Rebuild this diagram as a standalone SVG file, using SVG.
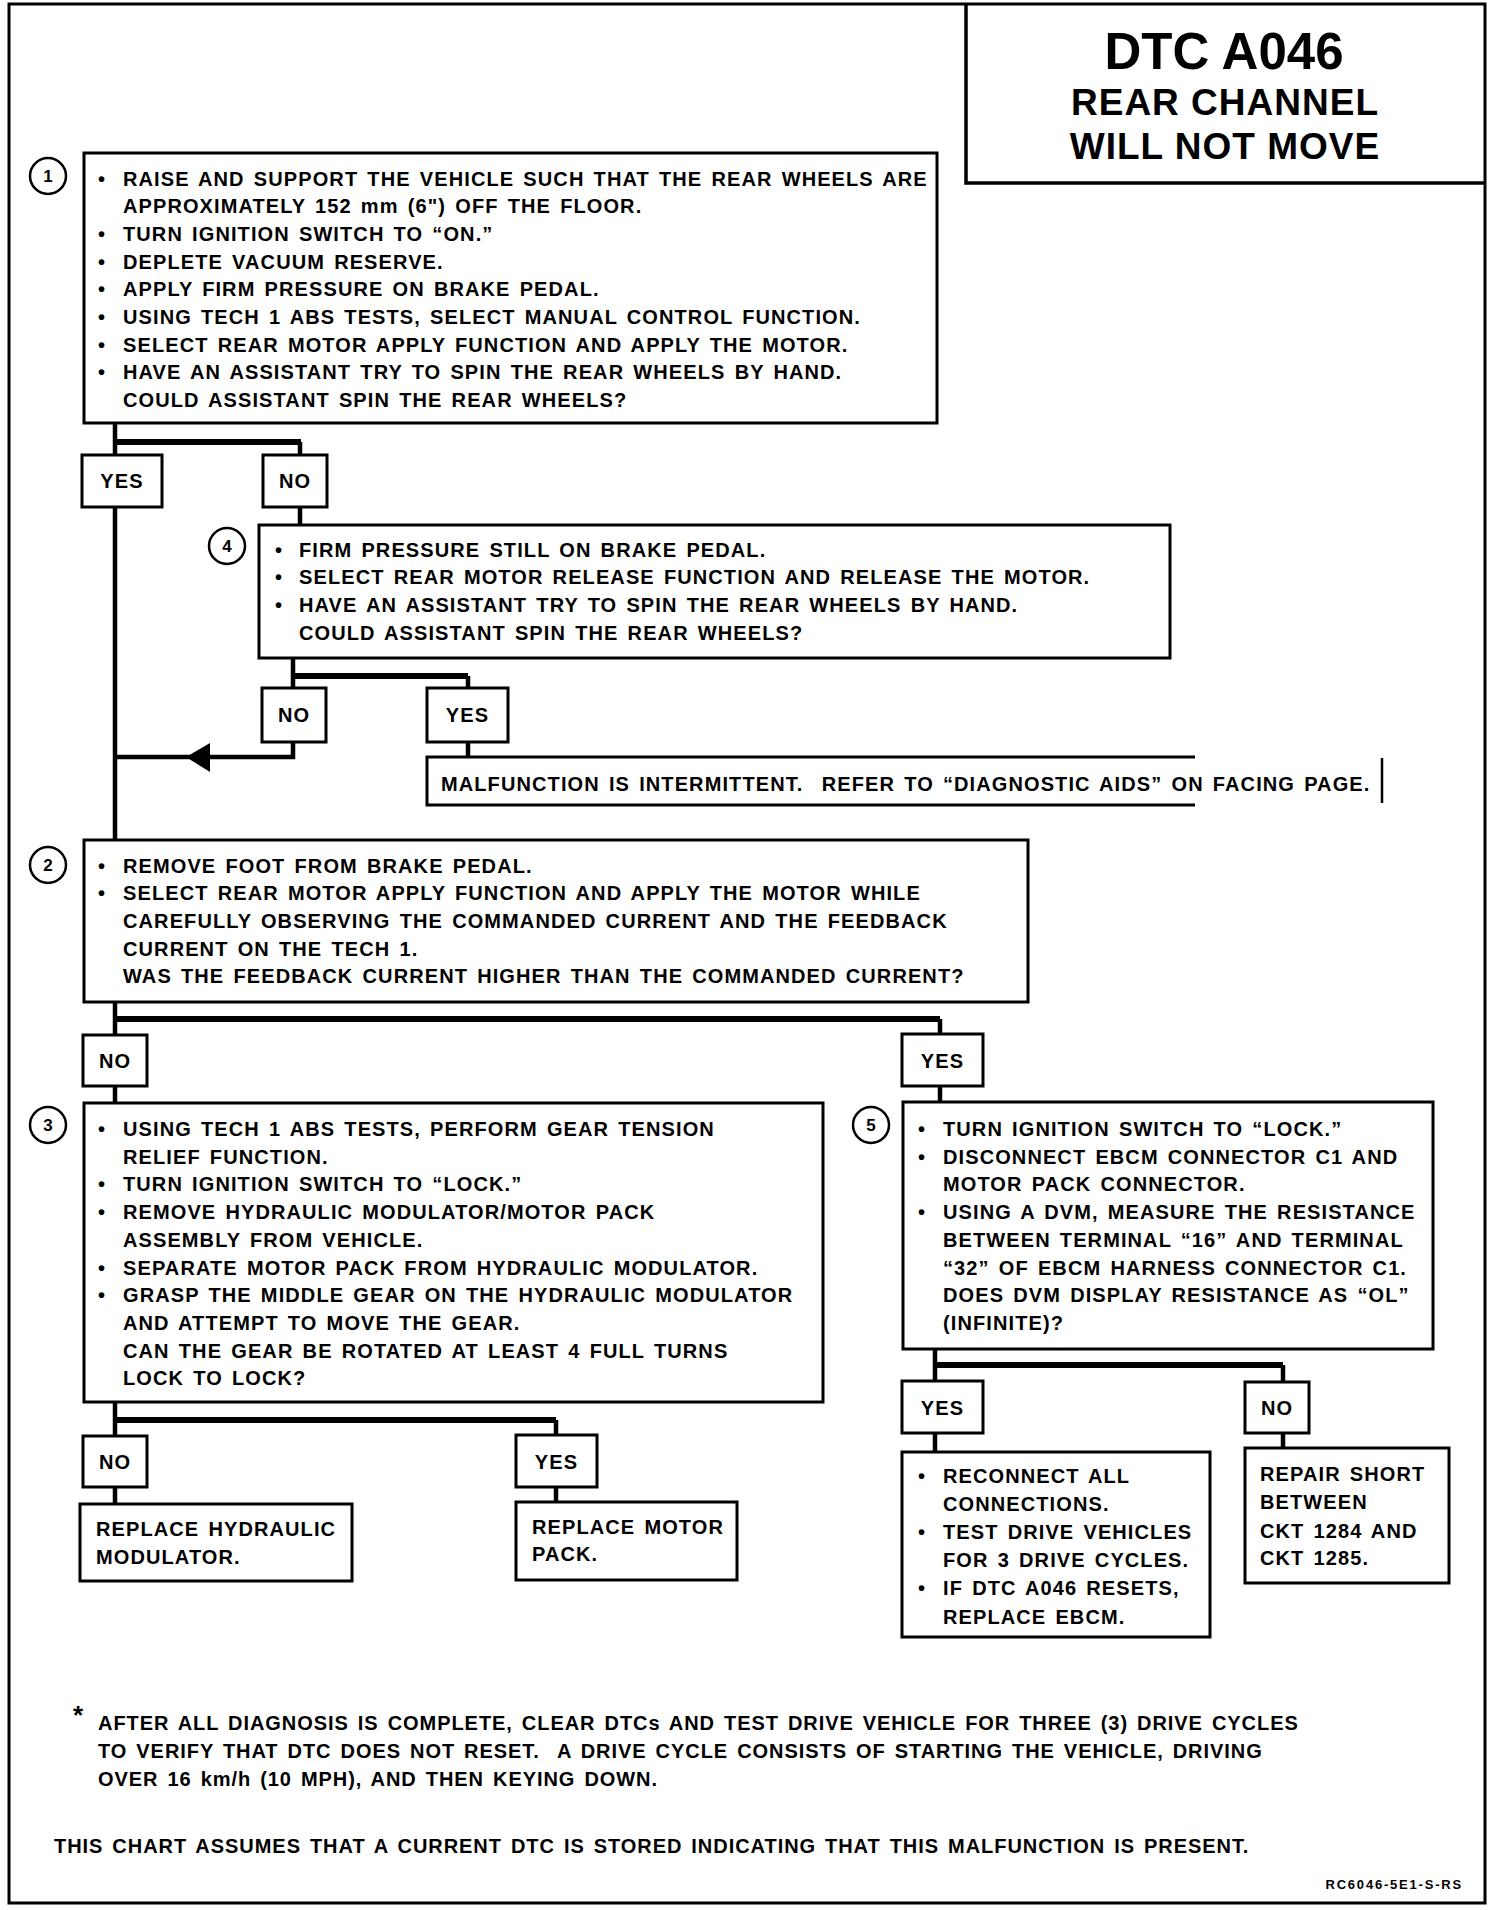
<svg xmlns="http://www.w3.org/2000/svg" width="1504" height="1910" viewBox="0 0 1504 1910">
<style>
.t{font-family:"Liberation Sans",Arial,sans-serif;font-weight:700;font-size:20px;letter-spacing:1.1px;word-spacing:2.5px;fill:#000}
.n{letter-spacing:0.95px}
.c{text-anchor:middle}
.b{fill:#fff;stroke:#000;stroke-width:3}
.cir{fill:#fff;stroke:#000;stroke-width:2.5}
.num{font-family:"Liberation Sans",Arial,sans-serif;font-weight:700;font-size:17px;text-anchor:middle}
.ln{fill:none;stroke:#000;stroke-width:4.5}
.bar{fill:none;stroke:#000;stroke-width:6}
.ttl{font-family:"Liberation Sans",Arial,sans-serif;font-weight:700;text-anchor:middle}
</style>
<rect width="1504" height="1910" fill="#fff"/>
<rect x="9" y="4" width="1476" height="1899" fill="none" stroke="#000" stroke-width="3"/>

<g id="title">
<path d="M966 4 V183 H1485" fill="none" stroke="#000" stroke-width="3.5"/>
<text class="ttl" x="1224" y="69" font-size="51">DTC A046</text>
<text class="ttl" x="1225" y="115" font-size="37" letter-spacing="1">REAR CHANNEL</text>
<text class="ttl" x="1225" y="159" font-size="37" letter-spacing="1">WILL NOT MOVE</text>
</g>

<g id="connectors">
<path class="ln" d="M115 423 V839"/>
<path class="bar" d="M115 442 H301"/>
<path class="ln" d="M300 442 V525"/>
<path class="ln" d="M293 658 V757 H115"/>
<path class="bar" d="M293 676 H468"/>
<path class="ln" d="M468 676 V757"/>
<polygon points="186,757 210,743 210,772" fill="#000"/>
<path class="ln" d="M115 1002 V1103"/>
<path class="bar" d="M115 1019 H940"/>
<path class="ln" d="M940 1019 V1102"/>
<path class="ln" d="M935 1349 V1452"/>
<path class="bar" d="M935 1365 H1283"/>
<path class="ln" d="M1283 1365 V1448"/>
<path class="ln" d="M115 1402 V1504"/>
<path class="bar" d="M115 1420 H556"/>
<path class="ln" d="M556 1420 V1502"/>
</g>

<g id="step1">
<rect class="b" x="84" y="153" width="853" height="270"/>
<circle class="cir" cx="48" cy="176" r="18"/>
<text class="num" x="48" y="182">1</text>
<text class="t c" x="102" y="185.5">•</text>
<text class="t" x="123" y="185.5">RAISE AND SUPPORT THE VEHICLE SUCH THAT THE REAR WHEELS ARE</text>
<text class="t" x="123" y="213.2">APPROXIMATELY 152 mm (6") OFF THE FLOOR.</text>
<text class="t c" x="102" y="240.9">•</text>
<text class="t" x="123" y="240.9">TURN IGNITION SWITCH TO “ON.”</text>
<text class="t c" x="102" y="268.6">•</text>
<text class="t" x="123" y="268.6">DEPLETE VACUUM RESERVE.</text>
<text class="t c" x="102" y="296.3">•</text>
<text class="t" x="123" y="296.3">APPLY FIRM PRESSURE ON BRAKE PEDAL.</text>
<text class="t c" x="102" y="324">•</text>
<text class="t" x="123" y="324">USING TECH 1 ABS TESTS, SELECT MANUAL CONTROL FUNCTION.</text>
<text class="t c" x="102" y="351.7">•</text>
<text class="t" x="123" y="351.7">SELECT REAR MOTOR APPLY FUNCTION AND APPLY THE MOTOR.</text>
<text class="t c" x="102" y="379.4">•</text>
<text class="t" x="123" y="379.4">HAVE AN ASSISTANT TRY TO SPIN THE REAR WHEELS BY HAND.</text>
<text class="t" x="123" y="407.1">COULD ASSISTANT SPIN THE REAR WHEELS?</text>
</g>

<g id="yes1"><rect class="b" x="82" y="455" width="80" height="52"/><text class="t c" x="122" y="488">YES</text></g>
<g id="no1"><rect class="b" x="263" y="455" width="64" height="52"/><text class="t c" x="295" y="488">NO</text></g>

<g id="step4">
<rect class="b" x="259" y="525" width="911" height="133"/>
<circle class="cir" cx="227" cy="546" r="18"/>
<text class="num" x="227" y="552">4</text>
<text class="t c" x="279" y="556.5">•</text>
<text class="t" x="299" y="556.5">FIRM PRESSURE STILL ON BRAKE PEDAL.</text>
<text class="t c" x="279" y="584.2">•</text>
<text class="t" x="299" y="584.2">SELECT REAR MOTOR RELEASE FUNCTION AND RELEASE THE MOTOR.</text>
<text class="t c" x="279" y="611.9">•</text>
<text class="t" x="299" y="611.9">HAVE AN ASSISTANT TRY TO SPIN THE REAR WHEELS BY HAND.</text>
<text class="t" x="299" y="639.6">COULD ASSISTANT SPIN THE REAR WHEELS?</text>
</g>

<g id="no2"><rect class="b" x="262" y="688" width="64" height="54"/><text class="t c" x="294" y="722">NO</text></g>
<g id="yes2"><rect class="b" x="427" y="688" width="81" height="54"/><text class="t c" x="467.5" y="722">YES</text></g>

<g id="intermittent">
<rect x="427" y="757" width="768" height="48" fill="#fff"/>
<path d="M1195 757 H427 V805 H1195" fill="none" stroke="#000" stroke-width="3"/>
<path d="M1382 758 V803" fill="none" stroke="#000" stroke-width="2.5"/>
<text class="t" x="441" y="791" style="white-space:pre">MALFUNCTION IS INTERMITTENT.  REFER TO “DIAGNOSTIC AIDS” ON FACING PAGE.</text>
</g>

<g id="step2">
<rect class="b" x="84" y="840" width="944" height="162"/>
<circle class="cir" cx="48" cy="865" r="18"/>
<text class="num" x="48" y="871">2</text>
<text class="t c" x="102" y="872.5">•</text>
<text class="t" x="123" y="872.5">REMOVE FOOT FROM BRAKE PEDAL.</text>
<text class="t c" x="102" y="900.2">•</text>
<text class="t" x="123" y="900.2">SELECT REAR MOTOR APPLY FUNCTION AND APPLY THE MOTOR WHILE</text>
<text class="t" x="123" y="927.9">CAREFULLY OBSERVING THE COMMANDED CURRENT AND THE FEEDBACK</text>
<text class="t" x="123" y="955.6">CURRENT ON THE TECH 1.</text>
<text class="t" x="123" y="983.3">WAS THE FEEDBACK CURRENT HIGHER THAN THE COMMANDED CURRENT?</text>
</g>

<g id="no3"><rect class="b" x="83" y="1035" width="64" height="51"/><text class="t c" x="115" y="1068">NO</text></g>
<g id="yes3"><rect class="b" x="902" y="1034" width="81" height="52"/><text class="t c" x="942.5" y="1068">YES</text></g>

<g id="step3">
<rect class="b" x="84" y="1103" width="739" height="299"/>
<circle class="cir" cx="48" cy="1125" r="18"/>
<text class="num" x="48" y="1131">3</text>
<text class="t c" x="102" y="1136">•</text>
<text class="t" x="123" y="1136">USING TECH 1 ABS TESTS, PERFORM GEAR TENSION</text>
<text class="t" x="123" y="1163.7">RELIEF FUNCTION.</text>
<text class="t c" x="102" y="1191.4">•</text>
<text class="t" x="123" y="1191.4">TURN IGNITION SWITCH TO “LOCK.”</text>
<text class="t c" x="102" y="1219.1">•</text>
<text class="t" x="123" y="1219.1">REMOVE HYDRAULIC MODULATOR/MOTOR PACK</text>
<text class="t" x="123" y="1246.8">ASSEMBLY FROM VEHICLE.</text>
<text class="t c" x="102" y="1274.5">•</text>
<text class="t" x="123" y="1274.5">SEPARATE MOTOR PACK FROM HYDRAULIC MODULATOR.</text>
<text class="t c" x="102" y="1302.2">•</text>
<text class="t" x="123" y="1302.2">GRASP THE MIDDLE GEAR ON THE HYDRAULIC MODULATOR</text>
<text class="t" x="123" y="1329.9">AND ATTEMPT TO MOVE THE GEAR.</text>
<text class="t" x="123" y="1357.6">CAN THE GEAR BE ROTATED AT LEAST 4 FULL TURNS</text>
<text class="t" x="123" y="1385.3">LOCK TO LOCK?</text>
</g>

<g id="step5">
<rect class="b" x="903" y="1102" width="530" height="247"/>
<circle class="cir" cx="871" cy="1125" r="18"/>
<text class="num" x="871" y="1131">5</text>
<text class="t c" x="922" y="1136">•</text>
<text class="t" x="943" y="1136">TURN IGNITION SWITCH TO “LOCK.”</text>
<text class="t c" x="922" y="1163.7">•</text>
<text class="t" x="943" y="1163.7">DISCONNECT EBCM CONNECTOR C1 AND</text>
<text class="t" x="943" y="1191.4">MOTOR PACK CONNECTOR.</text>
<text class="t c" x="922" y="1219.1">•</text>
<text class="t" x="943" y="1219.1">USING A DVM, MEASURE THE RESISTANCE</text>
<text class="t" x="943" y="1246.8">BETWEEN TERMINAL “16” AND TERMINAL</text>
<text class="t" x="943" y="1274.5">“32” OF EBCM HARNESS CONNECTOR C1.</text>
<text class="t" x="943" y="1302.2">DOES DVM DISPLAY RESISTANCE AS “OL”</text>
<text class="t" x="943" y="1329.9">(INFINITE)?</text>
</g>

<g id="yes5"><rect class="b" x="902" y="1381" width="81" height="52"/><text class="t c" x="942.5" y="1415">YES</text></g>
<g id="no5"><rect class="b" x="1245" y="1382" width="64" height="51"/><text class="t c" x="1277" y="1415">NO</text></g>

<g id="reconnect">
<rect class="b" x="902" y="1452" width="308" height="185"/>
<text class="t c" x="922" y="1482.5">•</text>
<text class="t" x="943" y="1482.5">RECONNECT ALL</text>
<text class="t" x="943" y="1510.7">CONNECTIONS.</text>
<text class="t c" x="922" y="1538.9">•</text>
<text class="t" x="943" y="1538.9">TEST DRIVE VEHICLES</text>
<text class="t" x="943" y="1567.1">FOR 3 DRIVE CYCLES.</text>
<text class="t c" x="922" y="1595.3">•</text>
<text class="t" x="943" y="1595.3">IF DTC A046 RESETS,</text>
<text class="t" x="943" y="1623.5">REPLACE EBCM.</text>
</g>

<g id="repair">
<rect class="b" x="1245" y="1448" width="204" height="135"/>
<text class="t" x="1260" y="1481">REPAIR SHORT</text>
<text class="t" x="1260" y="1509">BETWEEN</text>
<text class="t" x="1260" y="1537.5">CKT 1284 AND</text>
<text class="t" x="1260" y="1565">CKT 1285.</text>
</g>

<g id="no6"><rect class="b" x="83" y="1436" width="64" height="51"/><text class="t c" x="115" y="1469">NO</text></g>
<g id="yes6"><rect class="b" x="516" y="1435" width="81" height="52"/><text class="t c" x="556.5" y="1469">YES</text></g>

<g id="replaceHydraulic">
<rect class="b" x="80" y="1504" width="272" height="77"/>
<text class="t" x="96" y="1536">REPLACE HYDRAULIC</text>
<text class="t" x="96" y="1563.5">MODULATOR.</text>
</g>
<g id="replaceMotor">
<rect class="b" x="516" y="1502" width="221" height="78"/>
<text class="t" x="532" y="1533.5">REPLACE MOTOR</text>
<text class="t" x="532" y="1561">PACK.</text>
</g>

<g id="notes">
<text x="73" y="1724" font-family="Liberation Sans, Arial, sans-serif" font-weight="700" font-size="26">*</text>
<text class="t n" x="98" y="1729.5">AFTER ALL DIAGNOSIS IS COMPLETE, CLEAR DTCs AND TEST DRIVE VEHICLE FOR THREE (3) DRIVE CYCLES</text>
<text class="t n" x="98" y="1757.5" style="white-space:pre">TO VERIFY THAT DTC DOES NOT RESET.  A DRIVE CYCLE CONSISTS OF STARTING THE VEHICLE, DRIVING</text>
<text class="t n" x="98" y="1785.5">OVER 16 km/h (10 MPH), AND THEN KEYING DOWN.</text>
<text class="t n" x="54" y="1853">THIS CHART ASSUMES THAT A CURRENT DTC IS STORED INDICATING THAT THIS MALFUNCTION IS PRESENT.</text>
<text x="1463" y="1889" font-family="Liberation Sans, Arial, sans-serif" font-weight="700" font-size="13" letter-spacing="1.8" text-anchor="end">RC6046-5E1-S-RS</text>
</g>
</svg>
